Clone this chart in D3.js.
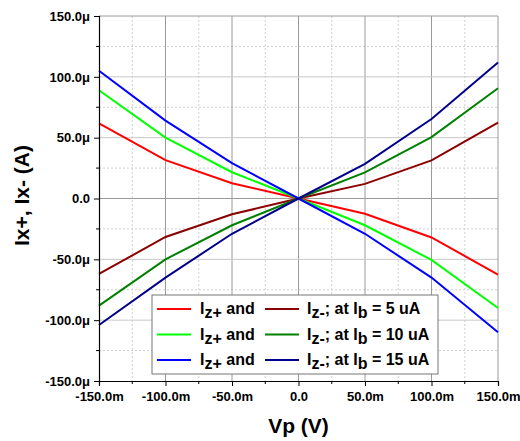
<!DOCTYPE html>
<html>
<head>
<meta charset="utf-8">
<script src="https://cdn.jsdelivr.net/npm/d3@7"></script>
<style>
  body { margin: 0; background: #fff; }
  text { font-family: "Liberation Sans", Arial, sans-serif; font-weight: bold; }
</style>
</head>
<body>
<div id="chart"></div>
<script>
(function() {
	// Vp in mV, currents in uA
	var vp = [-150, -100, -50, 0, 50, 100, 150];
	var izPlus5 = [61.8, 31.5, 12.6, 0, -12.6, -32, -62.5];
	var izMinus5 = [-62, -31.6, -13, 0, 12, 31.3, 62.3];
	var izPlus10 = [89, 50, 21.6, 0, -22, -50.5, -90];
	var izMinus10 = [-88, -50, -22, 0, 21.5, 50.5, 90.6];
	var izPlus15 = [105, 64, 29, 0, -29, -65, -110];
	var izMinus15 = [-104, -65, -29, 0, 28.5, 65.3, 111.7];
	var xTicks = [-150, -100, -50, 0, 50, 100, 150];
	var yTicks = [-150, -100, -50, 0, 50, 100, 150];
	var legendRows = ["5 uA", "10 uA", "15 uA"];

	var series = [
		{ values: izPlus5, color: "#ff0000" },
		{ values: izMinus5, color: "#8b0000" },
		{ values: izPlus10, color: "#00ff00" },
		{ values: izMinus10, color: "#008000" },
		{ values: izPlus15, color: "#0000ff" },
		{ values: izMinus15, color: "#00008b" }
	];

	var margin = { top: 16, left: 99, right: 22, bottom: 60 },
		width = 520 - margin.left - margin.right,
		height = 441 - margin.top - margin.bottom;

	var svg = d3.select("#chart")
				.append("svg")
				.attr("width", 520)
				.attr("height", 441)
				.append("g")
				.attr("transform", "translate(" + margin.left + "," + margin.top + ")");

	var x = d3.scaleLinear().domain([-150, 150]).range([0, width]);
	var y = d3.scaleLinear().domain([-150, 150]).range([height, 0]);

	var minor = d3.range(-125, 150, 50);

	// grid
	svg.selectAll(".vminor").data(minor).enter().append("line")
		.attr("x1", x).attr("x2", x).attr("y1", 0).attr("y2", height)
		.attr("stroke", "#d0d0d0").attr("stroke-dasharray", "2,2");
	svg.selectAll(".hminor").data(minor).enter().append("line")
		.attr("y1", y).attr("y2", y).attr("x1", 0).attr("x2", width)
		.attr("stroke", "#d0d0d0").attr("stroke-dasharray", "2,2");
	svg.selectAll(".vmajor").data(xTicks.slice(1, -1)).enter().append("line")
		.attr("x1", x).attr("x2", x).attr("y1", 0).attr("y2", height)
		.attr("stroke", "#9a9a9a");
	svg.selectAll(".hmajor").data(yTicks.slice(1, -1)).enter().append("line")
		.attr("y1", y).attr("y2", y).attr("x1", 0).attr("x2", width)
		.attr("stroke", function(d) { return d === 0 ? "#9a9a9a" : "#c8c8c8"; });

	// frame top/right
	svg.append("path")
		.attr("d", "M0,0H" + width + "V" + height)
		.attr("fill", "none").attr("stroke", "#9a9a9a");

	var line = d3.line()
		.x(function(d, i) { return x(vp[i]); })
		.y(function(d) { return y(d); });

	svg.selectAll(".series").data(series).enter().append("path")
		.attr("d", function(d) { return line(d.values); })
		.attr("fill", "none")
		.attr("stroke", function(d) { return d.color; })
		.attr("stroke-width", 2);

	function fmtX(d) { return d === 0 ? "0.0" : d.toFixed(1) + "m"; }
	function fmtY(d) { return d === 0 ? "0.0" : d.toFixed(1) + "\u03bc"; }

	var xAxis = svg.append("g")
		.attr("transform", "translate(0," + height + ")")
		.call(d3.axisBottom(x).tickValues(xTicks).tickFormat(fmtX).tickSize(5).tickPadding(6));
	xAxis.selectAll(".minor").data(minor).enter().append("line")
		.attr("x1", x).attr("x2", x).attr("y2", 3).attr("stroke", "#000");

	var yAxis = svg.append("g")
		.call(d3.axisLeft(y).tickValues(yTicks).tickFormat(fmtY).tickSize(5).tickPadding(4));
	yAxis.selectAll(".minor").data(minor).enter().append("line")
		.attr("y1", y).attr("y2", y).attr("x2", -3).attr("stroke", "#000");

	svg.selectAll(".domain").attr("stroke", "#000").attr("stroke-width", 1.2);
	svg.selectAll(".tick text").attr("font-size", 13).attr("fill", "#000")
		.attr("font-family", "'Liberation Sans', Arial, sans-serif").attr("font-weight", "bold");

	// axis titles
	svg.append("text")
		.attr("x", width / 2).attr("y", height + 52)
		.attr("text-anchor", "middle").attr("font-size", 21)
		.text("Vp (V)");
	svg.append("text")
		.attr("transform", "translate(-77," + (height / 2 - 3) + ") rotate(-90)")
		.attr("dy", "0.35em")
		.attr("text-anchor", "middle").attr("font-size", 21)
		.text("Ix+, Ix- (A)");

	// legend
	var lg = svg.append("g").attr("transform", "translate(" + (152 - margin.left) + "," + (295 - margin.top) + ")");
	lg.append("rect").attr("width", 286).attr("height", 79)
		.attr("fill", "#fff").attr("stroke", "#777");

	var rows = lg.selectAll(".row").data(legendRows).enter().append("g")
		.attr("transform", function(d, i) { return "translate(0," + (14 + i * 25.5) + ")"; });

	rows.append("line").attr("x1", 5).attr("x2", 39).attr("y1", 0).attr("y2", 0)
		.attr("stroke-width", 2)
		.attr("stroke", function(d, i) { return series[i * 2].color; });
	rows.append("line").attr("x1", 113).attr("x2", 147).attr("y1", 0).attr("y2", 0)
		.attr("stroke-width", 2)
		.attr("stroke", function(d, i) { return series[i * 2 + 1].color; });

	var t1 = rows.append("text").attr("x", 48).attr("y", 5).attr("font-size", 16);
	t1.append("tspan").text("I");
	t1.append("tspan").attr("dy", 4).text("z+");
	t1.append("tspan").attr("dy", -4).text(" and");

	var t2 = rows.append("text").attr("x", 155).attr("y", 5).attr("font-size", 16);
	t2.append("tspan").text("I");
	t2.append("tspan").attr("dy", 4).text("z-");
	t2.append("tspan").attr("dy", -4).text("; at I");
	t2.append("tspan").attr("dy", 4).text("b");
	t2.append("tspan").attr("dy", -4).text(function(d) { return " = " + d; });
})();
</script>
</body>
</html>
